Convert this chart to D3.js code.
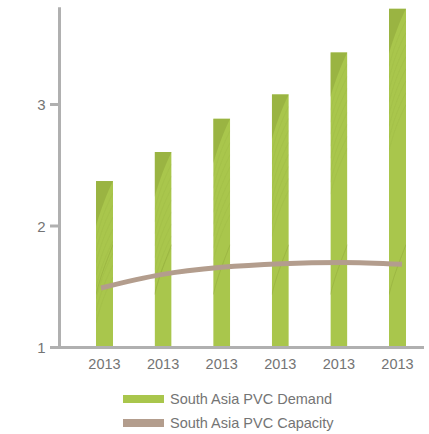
<!DOCTYPE html>
<html>
<head>
<meta charset="utf-8">
<script src="https://cdn.jsdelivr.net/npm/d3@7"></script>
<style>
  html, body { margin: 0; padding: 0; background: #fff; }
  svg { display: block; }
  text { font-family: "Liberation Sans", Arial, sans-serif; }
</style>
</head>
<body>
<svg id="chart" width="429" height="434"></svg>
<script>
// Years along the x axis
const years = ["2013", "2013", "2013", "2013", "2013", "2013"];
// South Asia PVC demand (bars)
const demand = [2.37, 2.61, 2.885, 3.085, 3.43, 3.79];
// South Asia PVC capacity (line)
const capacity = [1.49, 1.60, 1.66, 1.69, 1.70, 1.685];
// Y axis ticks
const yTicks = [1, 2, 3];
const seriesNames = ["South Asia PVC Demand", "South Asia PVC Capacity"];

const green = "#a9c64c";
const greenDark = "#8ea63a";
const brown = "#b39d8d";
const axisGrey = "#b0b0b0";
const textGrey = "#747474";

const svg = d3.select("#chart");
const idx = d3.range(years.length);

const y = d3.scaleLinear().domain([1, 3.8]).range([347.5, 7.3]);
const x = d3.scaleBand().domain(idx).range([75.2, 426.8]).paddingInner(0.71).paddingOuter(0.355);
const xLine = d3.scalePoint().domain(idx).range([101, 402]);

const defs = svg.append("defs");

// Bars with a subtle leafy texture
const bars = svg.append("g");
idx.forEach(i => {
  const bx = x(i), bw = x.bandwidth(), by = y(demand[i]), bh = y(1) - y(demand[i]);
  const cid = "clip" + i;
  defs.append("clipPath").attr("id", cid)
    .append("rect").attr("x", bx).attr("y", by).attr("width", bw).attr("height", bh);
  const g = bars.append("g").attr("clip-path", `url(#${cid})`);
  g.append("rect").attr("x", bx).attr("y", by).attr("width", bw).attr("height", bh).attr("fill", green);
  // darker swirl near the top of each bar
  g.append("path")
    .attr("d", `M${bx},${by + 45} C${bx + 5},${by + 28} ${bx + 11},${by + 12} ${bx + bw},${by} L${bx},${by} Z`)
    .attr("fill", greenDark).attr("opacity", 0.55);
  // fine curved strands
  for (let k = 0; k < 8; k++) {
    const oy = by + 18 + k * 12;
    g.append("path")
      .attr("d", `M${bx},${oy + 40} C${bx + 5},${oy + 20} ${bx + 10},${oy + 8} ${bx + bw},${oy - 6}`)
      .attr("fill", "none").attr("stroke", greenDark).attr("stroke-width", 0.5).attr("opacity", 0.3);
  }
  // lower swirl
  const ly = y(1.6);
  if (ly > by + 60) {
    g.append("path")
      .attr("d", `M${bx},${ly + 20} C${bx + 5},${ly} ${bx + 10},${ly - 12} ${bx + bw},${ly - 30}`)
      .attr("fill", "none").attr("stroke", greenDark).attr("stroke-width", 1).attr("opacity", 0.45);
  }
});

// Axes
svg.append("line").attr("x1", 59.5).attr("x2", 59.5).attr("y1", y(3.8)).attr("y2", y(1) + 1.5)
  .attr("stroke", axisGrey).attr("stroke-width", 3);
svg.append("line").attr("x1", 58).attr("x2", 424).attr("y1", y(1)).attr("y2", y(1))
  .attr("stroke", axisGrey).attr("stroke-width", 3);

const yg = svg.append("g");
yTicks.forEach(t => {
  yg.append("line").attr("x1", 50).attr("x2", 59).attr("y1", y(t)).attr("y2", y(t))
    .attr("stroke", axisGrey).attr("stroke-width", 3);
  yg.append("text").attr("x", 45.5).attr("y", y(t) + 5.5).attr("text-anchor", "end")
    .attr("font-size", 15).attr("fill", textGrey).text(t);
});

svg.append("g").selectAll("text").data(idx).join("text")
  .attr("x", i => x(i) + x.bandwidth() / 2)
  .attr("y", 368.5)
  .attr("text-anchor", "middle")
  .attr("font-size", 14.5)
  .attr("fill", textGrey)
  .text(i => years[i]);

// Capacity line
const line = d3.line().x(i => xLine(i)).y(i => y(capacity[i])).curve(d3.curveMonotoneX);
svg.append("path").datum(idx).attr("d", line)
  .attr("fill", "none").attr("stroke", brown).attr("stroke-width", 5);

// Legend
const legend = svg.append("g");
const colors = [green, brown];
seriesNames.forEach((name, k) => {
  const ly = 399 + k * 24;
  legend.append("rect").attr("x", 123).attr("y", ly - 4).attr("width", 41).attr("height", 8).attr("fill", colors[k]);
  legend.append("text").attr("x", 170).attr("y", ly + 5).attr("font-size", 14.5)
    .attr("fill", textGrey).text(name);
});
</script>
</body>
</html>
